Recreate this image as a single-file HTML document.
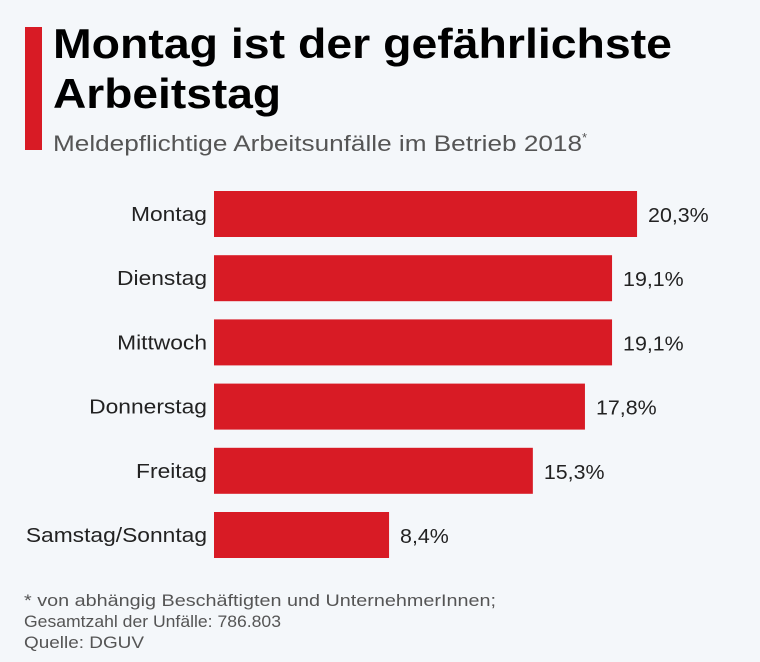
<!DOCTYPE html>
<html><head><meta charset="utf-8"><style>
html,body{margin:0;padding:0;background:#f4f7fa}
svg{display:block;font-family:"Liberation Sans",sans-serif}
</style></head><body>
<svg id="chart" width="760" height="662" viewBox="0 0 760 662">
<rect x="0" y="0" width="760" height="662" fill="#f4f7fa"/>
<rect x="25" y="27" width="17" height="123" fill="#d81b25"/>
<text x="53" y="58" font-size="42" font-weight="bold" fill="#000" textLength="619" lengthAdjust="spacingAndGlyphs">Montag ist der gefährlichste</text>
<text x="53" y="108" font-size="42" font-weight="bold" fill="#000" textLength="228" lengthAdjust="spacingAndGlyphs">Arbeitstag</text>
<text x="53" y="151" font-size="22" fill="#555"><tspan textLength="529" lengthAdjust="spacingAndGlyphs">Meldepflichtige Arbeitsunfälle im Betrieb 2018</tspan><tspan font-size="13" dy="-9">*</tspan></text>
<g id="bars"></g>
<text x="24" y="606" font-size="17" fill="#555" textLength="472" lengthAdjust="spacingAndGlyphs">* von abhängig Beschäftigten und UnternehmerInnen;</text>
<text x="24" y="627" font-size="17" fill="#555" textLength="257" lengthAdjust="spacingAndGlyphs">Gesamtzahl der Unfälle: 786.803</text>
<text x="24" y="648" font-size="17" fill="#555" textLength="120" lengthAdjust="spacingAndGlyphs">Quelle: DGUV</text>
</svg>
<script>
const categories=["Montag","Dienstag","Mittwoch","Donnerstag","Freitag","Samstag/Sonntag"];
const values=[20.3,19.1,19.1,17.8,15.3,8.4];
const valueLabels=["20,3%","19,1%","19,1%","17,8%","15,3%","8,4%"];
const x0=214, pxPer=20.84, y0=191, pitch=64.2, bh=46;
const xs=v=>x0+v*pxPer, ys=i=>y0+i*pitch;
const g=document.getElementById('bars'), NS="http://www.w3.org/2000/svg";
categories.forEach((c,i)=>{
  const r=document.createElementNS(NS,'rect');
  r.setAttribute('x',x0);r.setAttribute('y',ys(i));
  r.setAttribute('width',xs(values[i])-x0);r.setAttribute('height',bh);
  r.setAttribute('fill','#d81b25');
  
  
  g.appendChild(r);
  const t=document.createElementNS(NS,'text');
  t.setAttribute('x',0);t.setAttribute('y',0);
  t.setAttribute('transform','translate(207,'+(ys(i)+bh/2+7)+') scale(1.14,1)');
  t.setAttribute('text-anchor','end');t.setAttribute('font-size','20');t.setAttribute('fill','#222');
  t.textContent=c;
  
  
  g.appendChild(t);
  const v=document.createElementNS(NS,'text');
  v.setAttribute('x',0);v.setAttribute('y',0);
  v.setAttribute('transform','translate('+(xs(values[i])+11)+','+(ys(i)+bh/2+8)+') scale(1.07,1)');
  v.setAttribute('font-size','20');v.setAttribute('fill','#222');
  v.textContent=valueLabels[i];
  
  
  g.appendChild(v);
});
</script>
</body></html>
